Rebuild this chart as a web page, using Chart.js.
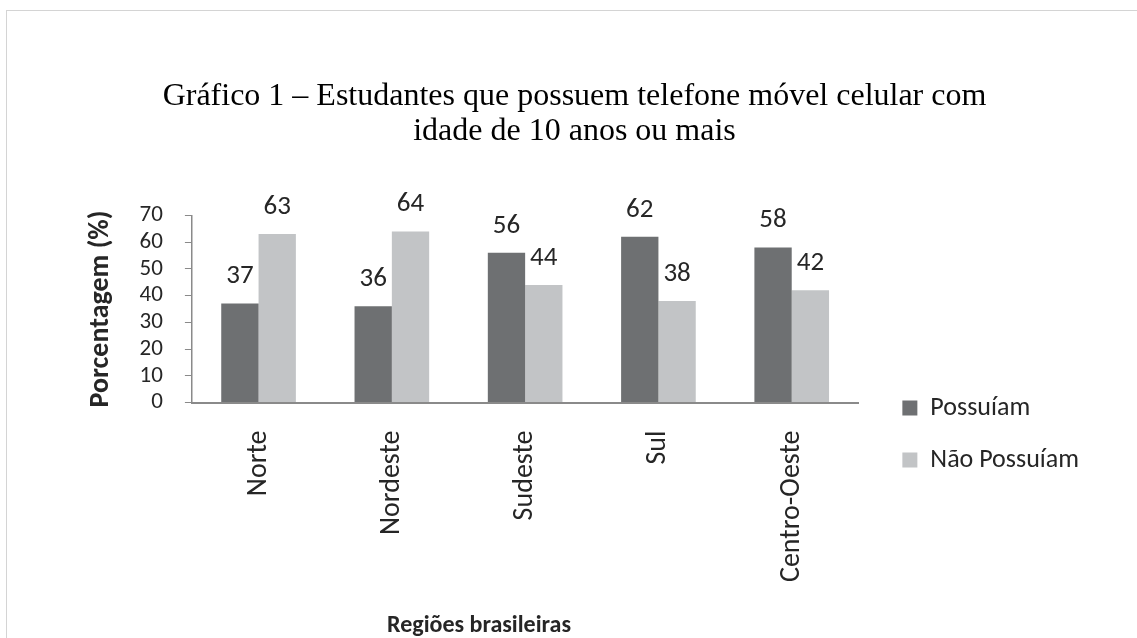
<!DOCTYPE html>
<html lang="pt">
    <head>
        <meta charset="UTF-8" />
        <title>Gráfico 1</title>
        <script src="https://cdn.jsdelivr.net/npm/chart.js@4.4.0/dist/chart.umd.min.js"></script>
        <style>
            body {
                margin: 0;
                background: #fff;
            }
            #frame {
                position: absolute;
                left: 6px;
                top: 10px;
                width: 1140px;
                height: 640px;
                border: 1px solid #d4d4d4;
            }
            #chart {
                position: absolute;
                left: 0;
                top: 0;
            }
        </style>
    </head>
    <body>
        <div id="frame"></div>
        <canvas id="chart" width="1137" height="638"></canvas>
        <script>
            const regions = ['Norte', 'Nordeste', 'Sudeste', 'Sul', 'Centro-Oeste'];
            const possuiam = [37, 36, 56, 62, 58];
            const naoPossuiam = [63, 64, 44, 38, 42];
            const yTicks = [0, 10, 20, 30, 40, 50, 60, 70];

            const sansFont = "Carlito, Lato, sans-serif";

            // value labels above each bar
            const barValues = {
                id: 'barValues',
                afterDatasetsDraw(chart) {
                    const ctx = chart.ctx;
                    ctx.save();
                    ctx.font = '27px ' + sansFont;
                    ctx.fillStyle = '#262626';
                    ctx.textAlign = 'center';
                    ctx.textBaseline = 'middle';
                    chart.data.datasets.forEach((ds, i) => {
                        chart.getDatasetMeta(i).data.forEach((bar, j) => {
                            ctx.fillText(ds.data[j], bar.x, bar.y - 27);
                        });
                    });
                    ctx.restore();
                }
            };

            // the legend sits lower and a bit further right than Chart.js puts it
            const legendShift = {
                id: 'legendShift',
                afterLayout(chart) {
                    const lg = chart.legend;
                    lg.left += 18; lg.right += 18;
                    lg.top += 115; lg.bottom += 115;
                }
            };

            new Chart(document.getElementById('chart'), {
                type: 'bar',
                data: {
                    labels: regions,
                    datasets: [
                        { label: 'Possuíam', data: possuiam, backgroundColor: '#6e7072' },
                        { label: 'Não Possuíam', data: naoPossuiam, backgroundColor: '#c2c4c6' }
                    ]
                },
                options: {
                    responsive: false,
                    animation: false,
                    devicePixelRatio: 1,
                    layout: { padding: { left: 78, right: 66, top: 0, bottom: 0 } },
                    datasets: {
                        bar: { barPercentage: 1, categoryPercentage: 0.56 }
                    },
                    plugins: {
                        title: {
                            display: true,
                            text: ['Gráfico 1 – Estudantes que possuem telefone móvel celular com', 'idade de 10 anos ou mais'],
                            color: '#000',
                            font: { family: "'Liberation Serif', 'Times New Roman', serif", size: 32, weight: 'normal', lineHeight: 1.1 },
                            padding: { top: 79, bottom: 66 }
                        },
                        legend: {
                            position: 'right',
                            labels: {
                                boxWidth: 15,
                                boxHeight: 15,
                                padding: 26,
                                color: '#262626',
                                font: { family: sansFont, size: 26 }
                            }
                        },
                        tooltip: { enabled: false }
                    },
                    scales: {
                        x: {
                            grid: { drawOnChartArea: false, drawTicks: false },
                            border: { color: '#8a8a8a', width: 2 },
                            ticks: {
                                minRotation: 90,
                                maxRotation: 90,
                                padding: 28,
                                color: '#262626',
                                font: { family: sansFont, size: 28 }
                            },
                            title: {
                                display: true,
                                // trailing spaces pull the centred title left, as in the original
                                text: 'Regiões brasileiras' + ' '.repeat(17),
                                color: '#262626',
                                font: { family: sansFont, size: 24, weight: 'bold', lineHeight: 1 },
                                padding: { top: 4, bottom: 0 }
                            }
                        },
                        y: {
                            min: 0,
                            max: 70,
                            afterBuildTicks: axis => { axis.ticks = yTicks.map(v => ({ value: v })); },
                            grid: { drawOnChartArea: false, drawTicks: true, tickLength: 7, color: '#8a8a8a' },
                            border: { color: '#8a8a8a', width: 1.5 },
                            ticks: {
                                autoSkip: false,
                                padding: 22,
                                color: '#262626',
                                font: { family: sansFont, size: 23 }
                            },
                            title: {
                                display: true,
                                text: 'Porcentagem (%)',
                                color: '#262626',
                                font: { family: sansFont, size: 28, weight: 'bold' },
                                padding: { top: 6, bottom: 0 }
                            }
                        }
                    }
                },
                plugins: [barValues, legendShift]
            });
        </script>
    </body>
</html>
